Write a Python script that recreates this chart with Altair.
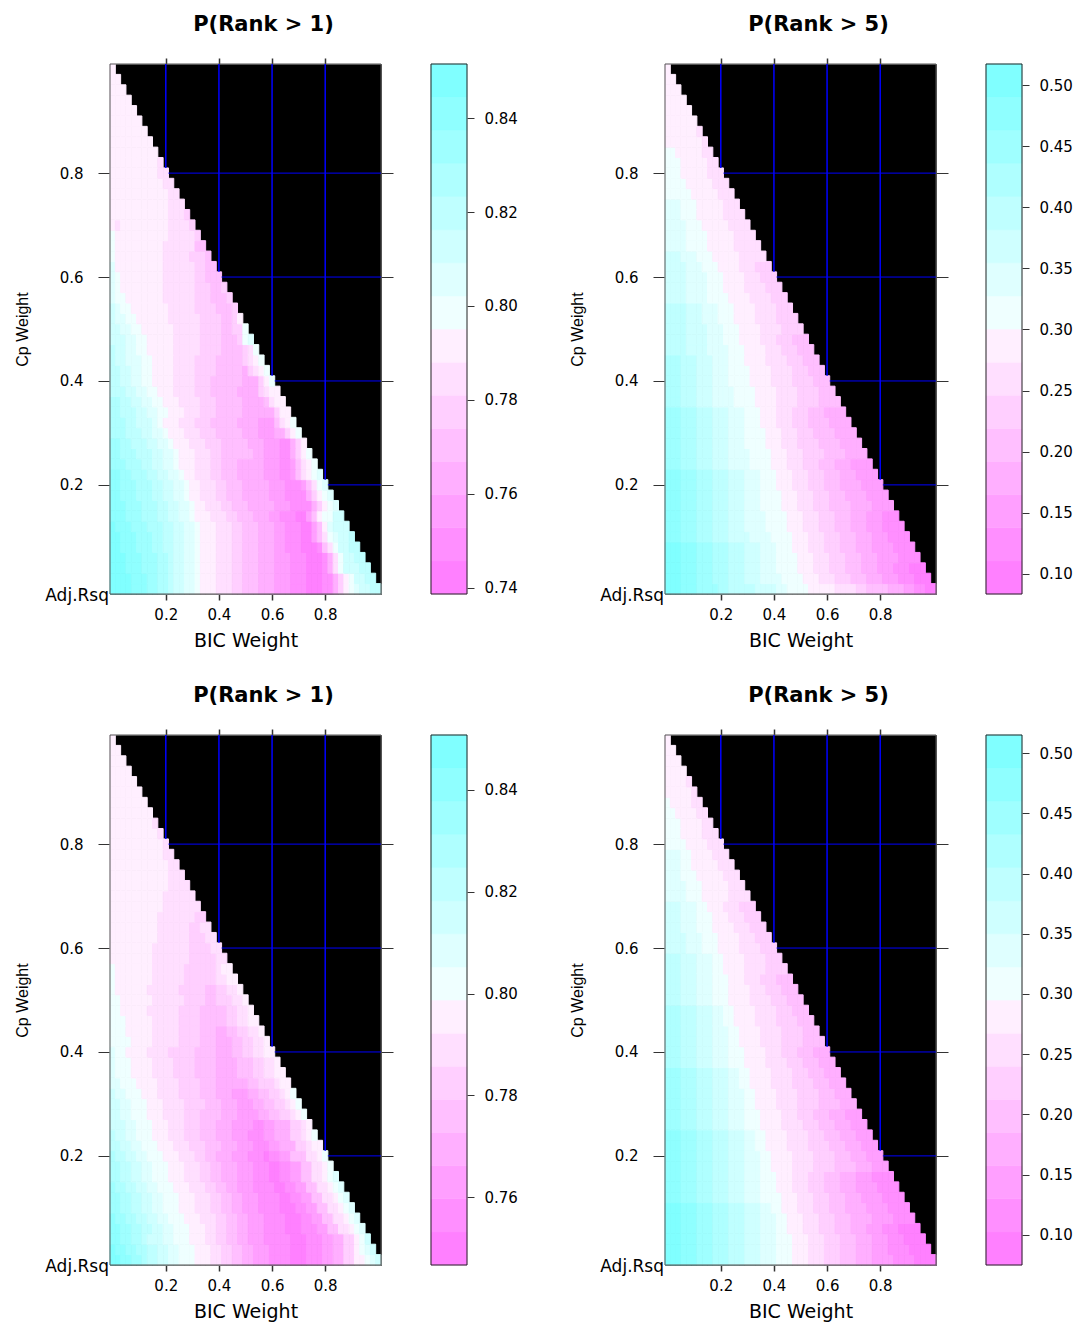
import altair as alt
import pandas as pd

# ---------------- data ----------------
STEP = 0.02          # grid step of BIC weight / Cp weight
N_GRID = 51          # grid points 0.00 .. 1.00
TITLES = ["P(Rank > 1)", "P(Rank > 5)", "P(Rank > 1)", "P(Rank > 5)"]
X_TITLE = "BIC Weight"
Y_TITLE = "Cp Weight"
CORNER_LABEL = "Adj.Rsq"
AXIS_TICKS = [0.2, 0.4, 0.6, 0.8]
KEY_LO = [0.7387, 0.0836, 0.7467, 0.0750]
KEY_HI = [0.8515, 0.5172, 0.8508, 0.5150]
KEY_TICKS = [
    [0.74, 0.76, 0.78, 0.80, 0.82, 0.84],
    [0.10, 0.15, 0.20, 0.25, 0.30, 0.35, 0.40, 0.45, 0.50],
    [0.76, 0.78, 0.80, 0.82, 0.84],
    [0.10, 0.15, 0.20, 0.25, 0.30, 0.35, 0.40, 0.45, 0.50],
]
N_LEVELS = 16

# Each row = one Cp weight (row 0 = 0.00), cells along BIC weight.
# Run-length tokens: first char = colour level (0..f), rest = number of cells.
P1_ROWS = [
    "f4 e3 d2 c2 b1 a2 92 81 73 63 52 43 33 23 13 03 12 31 51 71 81 91 a2 b2",
    "f4 e3 d2 c2 b1 a2 92 81 73 63 52 43 33 23 13 03 12 31 51 71 81 a2 b2",
    "f3 e3 d3 c2 b1 a2 92 81 73 63 52 43 33 23 13 03 11 31 61 81 a3 b2",
    "f3 e3 d3 c2 b1 a2 92 81 73 63 52 43 33 23 13 03 11 31 61 81 a2 b2",
    "f2 e3 d3 c2 b2 a2 92 81 73 63 52 43 33 22 13 03 11 41 61 81 a2 b2",
    "f2 e3 d3 c2 b2 a2 92 81 73 63 52 43 33 22 13 02 21 41 61 81 91 a2 b1",
    "f1 e3 d3 c3 b2 a2 92 81 73 63 52 43 33 22 13 02 21 41 71 91 a3",
    "e3 d3 c3 b2 a2 92 81 73 63 52 43 33 22 13 02 21 41 71 82 a2",
    "e3 d3 c3 b2 a2 92 81 72 63 52 43 33 32 23 13 11 31 51 71 81 91",
    "e2 d3 c3 b2 a2 92 81 72 63 52 43 33 32 23 13 11 31 51 71 81 91",
    "e2 d3 c3 b2 a2 92 81 72 63 52 43 33 32 23 13 21 41 61 81 91",
    "e2 d2 c3 b2 a2 92 81 72 63 52 43 33 32 23 12 21 41 61 71 81 91",
    "d3 c3 b2 a2 92 81 73 63 52 43 33 32 23 12 21 41 61 71 81",
    "d2 c3 b3 a2 92 81 73 63 52 46 32 23 12 31 51 71 81",
    "d2 c2 b3 a2 92 81 73 63 53 45 33 23 12 31 51 71",
    "c3 b3 a2 92 81 73 63 53 45 33 23 32 51 71 81",
    "c3 b2 a3 91 81 73 63 53 45 34 23 41 61 71 81",
    "c2 b3 a2 92 82 73 63 53 45 35 31 51 72",
    "c2 b2 a2 92 82 73 64 53 45 34 41 61 72",
    "b3 a2 92 82 73 64 53 45 34 51 61 72",
    "b2 a2 92 82 74 64 53 46 33 51 71 81",
    "b2 a2 92 82 74 64 54 45 31 51 61 71 81",
    "b1 a2 93 82 74 64 54 45 51 61 71 81",
    "b1 a2 92 82 75 65 54 44 51 61 81",
    "a3 92 82 75 65 54 43 51 81 91",
    "a2 92 82 76 65 54 42 52 81",
    "a1 92 82 76 66 54 42 51 71",
    "a1 91 82 77 65 54 43 51",
    "91 82 77 66 53 43 51",
    "91 81 78 66 53 42 51",
    "91 81 78 66 52 43",
    "91 79 66 52 42",
    "81 79 65 53 41",
    "81 79 66 42",
    "81 710 65 51",
    "71 61 79 64 51",
    "711 63 51",
    "711 63",
    "711 62",
    "710 62",
    "79 62",
    "79 61",
    "79", "78", "77", "76", "75", "74", "73", "72", "71",
]

P2_ROWS = [
    "f3 e3 d4 c2 b5 a4 92 84 75 64 52 44 33 22 12 02",
    "f3 e3 d3 c3 b3 a3 94 84 73 63 53 43 33 23 13 03",
    "f3 e3 d3 c3 b3 a3 93 84 73 63 53 43 33 23 13 03",
    "f3 e3 d3 c3 b3 a3 93 84 73 63 53 43 33 24 14",
    "f3 e3 d3 c3 b3 a3 93 83 73 63 53 43 33 24 14",
    "e3 d3 c3 b3 a4 94 84 73 63 53 43 33 23 14",
    "e3 d3 c3 b3 a3 94 84 73 63 53 43 33 23 14",
    "e3 d3 c3 b3 a3 94 84 73 63 53 43 33 23 13",
    "e3 d3 c3 b3 a3 93 84 73 63 53 44 34 24",
    "e3 d3 c3 b3 a3 93 84 73 63 53 43 34 24",
    "e3 d3 c3 b3 a3 93 83 73 63 53 43 34 24",
    "e3 d3 c3 b3 a3 93 83 73 63 53 43 33 24",
    "d3 c3 b3 a3 94 84 73 63 53 43 33 24",
    "d3 c3 b3 a3 94 84 73 63 54 44 34",
    "d3 c3 b3 a3 93 84 73 63 54 44 34",
    "d3 c3 b3 a3 93 84 73 63 53 44 34",
    "d3 c3 b3 a3 93 83 73 63 53 44 34",
    "d3 c3 b3 a3 93 83 73 63 53 43 34",
    "c3 b3 a3 94 84 74 64 54 44",
    "c3 b3 a3 94 84 74 64 54 43",
    "c3 b3 a3 93 84 74 64 54 43",
    "c3 b3 a3 93 84 74 64 53 43",
    "c3 b3 a3 93 83 74 64 53 43",
    "b4 a4 94 83 74 63 53 43",
    "b4 a4 93 83 74 63 53 43",
    "b4 a4 93 83 74 64 54",
    "b4 a3 93 83 74 64 54",
    "b4 a3 93 83 74 64 53",
    "a4 94 84 74 64 53",
    "a4 94 83 74 64 53",
    "a4 94 83 74 63 53",
    "a4 93 83 74 63 53",
    "a3 93 83 75 65",
    "94 84 75 65",
    "94 84 75 64",
    "94 83 75 64",
    "93 83 75 64",
    "93 83 75 63",
    "85 75 63",
    "84 75 63",
    "83 75 63",
    "83 75 62",
    "82 75 62",
    "77 61",
    "76 61",
    "76", "75", "74", "73", "72", "71",
]

P3_ROWS = [
    "f2 e2 d2 c1 b2 a2 92 83 73 62 52 42 32 23 14 03 13 22 32 52 72 81 91 a1",
    "f1 e2 d2 c2 b2 a2 92 83 73 62 52 42 32 23 14 03 13 22 32 52 71 81 91 a1",
    "e2 d2 c2 b1 a3 92 83 73 62 52 42 32 23 15 03 13 22 32 52 71 81 a1",
    "e2 d2 c2 b2 a2 92 83 73 62 52 42 32 23 14 03 13 22 42 62 71 81 91",
    "e1 d2 c2 b2 a2 92 83 73 63 52 42 32 23 14 03 12 22 42 62 71 81 91",
    "d2 c2 b2 a2 92 83 73 63 52 42 32 23 14 03 12 22 42 62 71 81 91",
    "d2 c2 b2 a2 92 83 73 63 52 42 32 23 14 02 12 22 42 62 71 81 91",
    "d1 c2 b2 a2 92 83 73 63 52 42 32 23 14 02 12 22 42 62 71 81 91",
    "c2 b2 a2 92 83 73 63 52 42 33 23 13 02 12 22 42 62 71 81 91",
    "c2 b2 a2 92 83 73 63 52 42 33 23 13 02 12 22 42 62 71 81",
    "c1 b2 a2 92 83 73 63 52 42 33 23 13 01 12 22 43 62 71 81",
    "b2 a2 92 83 73 63 53 43 33 23 13 22 33 52 61 72",
    "b1 a2 92 83 73 63 53 43 33 23 13 22 33 52 61 71 81",
    "a3 92 83 73 63 53 43 33 24 12 22 33 52 61 71",
    "a2 92 83 73 64 53 44 33 24 32 42 52 61 71 81",
    "a2 92 83 73 64 54 43 33 23 32 42 52 61 71 81",
    "a1 92 83 73 64 54 43 33 23 32 42 52 61 71 81",
    "92 83 74 64 54 43 34 32 42 53 61 72",
    "91 83 74 64 54 44 34 43 52 62 72",
    "91 83 74 64 54 44 34 43 52 62 71",
    "91 82 74 64 55 44 33 42 52 62 72",
    "84 74 65 54 43 33 42 52 62 71",
    "83 75 65 54 43 32 42 52 62 71",
    "83 75 65 54 43 42 52 62 72",
    "82 75 66 54 43 42 52 62 71",
    "82 76 66 54 42 53 62 71",
    "81 76 66 55 42 52 62 71",
    "81 77 66 54 52 62 72",
    "81 77 66 54 52 61 72",
    "78 67 53 52 62",
    "78 67 54 62",
    "79 66 53 62",
    "79 66 52 62",
    "79 67 52",
    "710 65 62",
    "710 64 62",
    "711 64",
    "711 63",
    "711 62",
    "710 62",
    "710 61",
    "79 61",
    "78 61",
    "78", "77", "76", "75", "74", "73", "72", "71",
]

P4_ROWS = [
    "f3 e3 d3 c3 b3 a3 93 83 73 63 53 43 33 24 14 04",
    "f3 e3 d3 c3 b3 a3 93 83 73 63 53 43 33 23 14 04",
    "f3 e3 d3 c3 b3 a3 93 83 73 63 53 43 33 23 13 04",
    "f3 e3 d3 c3 b3 a3 93 82 73 63 53 43 33 23 13 04",
    "f3 e3 d3 c3 b3 a3 93 82 73 63 53 43 34 24 14",
    "f3 e3 d3 c3 b3 a3 92 82 73 63 53 43 34 24 14",
    "e3 d3 c3 b3 a3 93 84 73 63 53 43 33 24 14",
    "e3 d3 c3 b3 a3 93 83 73 63 53 43 33 24 14",
    "e3 d3 c3 b3 a3 93 83 73 63 53 43 33 23 14",
    "e3 d3 c3 b3 a3 93 82 74 64 54 44 33 23",
    "e3 d3 c3 b3 a3 93 82 74 64 54 43 33 23",
    "e3 d3 c3 b3 a3 92 82 74 64 54 43 33 23",
    "e3 d3 c3 b3 a3 92 82 74 64 53 43 33 23",
    "d3 c3 b3 a3 93 83 74 64 53 43 33 23",
    "d3 c3 b3 a3 93 83 74 63 53 43 33 23",
    "d3 c3 b3 a3 93 82 74 64 54 44 33",
    "d3 c3 b3 a3 93 82 74 64 54 43 33",
    "d3 c3 b3 a3 92 82 74 64 54 43 33",
    "d3 c3 b3 a3 92 82 74 64 53 43 33",
    "c3 b3 a3 93 83 74 64 53 43 33",
    "c3 b3 a3 93 83 74 63 53 43 33",
    "c3 b3 a3 93 82 74 64 54 44",
    "c3 b3 a3 93 82 74 64 54 43",
    "c3 b3 a3 92 82 74 64 54 43",
    "c3 b3 a3 92 82 74 64 53 43",
    "b3 a3 93 83 74 64 53 43",
    "b3 a3 93 83 74 63 53 43",
    "b3 a3 93 83 73 63 53 43",
    "b3 a3 93 82 74 64 54",
    "b3 a3 93 82 74 64 53",
    "a4 93 83 74 64 53",
    "a4 93 83 74 63 53",
    "a3 93 83 74 63 53",
    "a3 93 83 73 63 53",
    "a3 93 82 73 63 53",
    "94 83 75 64",
    "94 83 75 63",
    "93 83 75 63",
    "93 82 75 63",
    "93 82 74 63",
    "84 74 63",
    "83 74 63",
    "83 74 62",
    "82 74 62",
    "81 74 62",
    "75 61",
    "74 61",
    "74", "73", "72", "71",
]

ROWS = [P1_ROWS, P2_ROWS, P3_ROWS, P4_ROWS]

# ---------------- styles ----------------
PALETTE = ["#FF80FF", "#FF8FFF", "#FF9FFF", "#FFAFFF", "#FFBFFF", "#FFCFFF",
           "#FFDFFF", "#FFEFFF", "#EFFFFF", "#DFFFFF", "#CFFFFF", "#BFFFFF",
           "#AFFFFF", "#9FFFFF", "#8FFFFF", "#80FFFF"]
FONT = "DejaVu Sans"
NARROW = "Liberation Sans Narrow, Liberation Sans"
PLOT_W, PLOT_H, KEY_W, GAP_W = 271, 530, 36, 98
HALF = STEP / 2


def decode(rows):
    recs = []
    for r, s in enumerate(rows):
        n = N_GRID - r
        levels = []
        for tok in s.split():
            levels += [int(tok[0], 16)] * int(tok[1:])
        levels = (levels + [levels[-1]] * n)[:n]
        for c, lev in enumerate(levels):
            recs.append({"bic": round(c * STEP, 4), "cp": round(r * STEP, 4), "level": lev})
    return pd.DataFrame(recs)


cscale = alt.Scale(domain=list(range(N_LEVELS)), range=PALETTE)
xs = alt.Scale(domain=[-HALF, 1 + HALF], nice=False, zero=False)
ys = alt.Scale(domain=[-HALF, 1 + HALF], nice=False, zero=False)


def heat(i):
    df = decode(ROWS[i])
    w = (KEY_HI[i] - KEY_LO[i]) / N_LEVELS
    df["value"] = KEY_LO[i] + (df["level"] + 0.5) * w
    cells = alt.Chart(df).transform_calculate(
        x0=f"datum.bic - {HALF}", x1=f"datum.bic + {HALF}",
        y0=f"datum.cp - {HALF}", y1=f"datum.cp + {HALF}",
    ).mark_rect(strokeWidth=1).encode(
        x=alt.X("x0:Q", scale=xs, axis=alt.Axis(
            orient="bottom", values=AXIS_TICKS, format=".1f", title=X_TITLE,
            tickSize=6, tickWidth=1.5, labelPadding=7, titlePadding=9,
            titleFontSize=19)),
        x2="x1:Q",
        y=alt.Y("y0:Q", scale=ys, axis=alt.Axis(
            orient="left", values=AXIS_TICKS, format=".1f", title=Y_TITLE,
            tickSize=12, labelPadding=15, titlePadding=29,
            titleFont=NARROW, titleFontSize=16)),
        y2="y1:Q",
        color=alt.Color("level:O", scale=cscale, legend=None),
        stroke=alt.Stroke("level:O", scale=cscale, legend=None),
        tooltip=[alt.Tooltip("bic:Q"), alt.Tooltip("cp:Q"), alt.Tooltip("value:Q", format=".3f")],
    )
    frame = alt.Chart(pd.DataFrame({"f": [0]})).mark_rect(
        fillOpacity=0, stroke="#555", strokeWidth=1
    ).encode(
        x=alt.X(datum=-HALF, scale=xs, axis=None), x2=alt.X2(datum=1 + HALF),
        y=alt.Y(datum=-HALF, scale=ys, axis=None), y2=alt.Y2(datum=1 + HALF),
    )
    vdf = pd.DataFrame({"x": AXIS_TICKS,
                        "y": [1 - v + HALF for v in AXIS_TICKS],
                        "y2": [1 + HALF] * len(AXIS_TICKS)})
    hdf = pd.DataFrame({"y": AXIS_TICKS,
                        "x": [1 - v + HALF for v in AXIS_TICKS],
                        "x2": [1 + HALF] * len(AXIS_TICKS)})
    vlines = alt.Chart(vdf).mark_rule(color="#0000FF", strokeWidth=1.5).encode(
        x=alt.X("x:Q", scale=xs, axis=alt.Axis(
            orient="top", values=AXIS_TICKS, labels=False, title=None,
            tickSize=6, tickWidth=1.5)),
        y=alt.Y("y:Q", scale=ys, axis=alt.Axis(
            orient="right", values=AXIS_TICKS, labels=False, title=None, tickSize=12)),
        y2="y2:Q",
    )
    hlines = alt.Chart(hdf).mark_rule(color="#0000FF", strokeWidth=1).encode(
        x=alt.X("x:Q", scale=xs, axis=None), x2="x2:Q",
        y=alt.Y("y:Q", scale=ys, axis=None),
    )
    corner = alt.Chart(pd.DataFrame({"t": [CORNER_LABEL]})).mark_text(
        align="right", baseline="middle", dx=-1, dy=2, font=FONT, fontSize=17, color="black"
    ).encode(
        x=alt.X(datum=-HALF, scale=xs, axis=None),
        y=alt.Y(datum=-HALF, scale=ys, axis=None),
        text="t:N",
    )
    return alt.layer(cells, frame, vlines, hlines, corner).resolve_axis(
        x="independent", y="independent"
    ).properties(
        width=PLOT_W, height=PLOT_H,
        title=alt.TitleParams(TITLES[i], font=FONT, fontSize=21, fontWeight="bold",
                              anchor="middle", dx=18, offset=22, color="black"),
        view=alt.ViewBackground(fill="black", stroke="#555"),
    )


def key(i):
    lo, hi = KEY_LO[i], KEY_HI[i]
    w = (hi - lo) / N_LEVELS
    bands = pd.DataFrame({"level": list(range(N_LEVELS)),
                          "v0": [lo + k * w for k in range(N_LEVELS)],
                          "v1": [lo + (k + 1) * w for k in range(N_LEVELS)]})
    kys = alt.Scale(domain=[lo, hi], nice=False, zero=False)
    kxs = alt.Scale(domain=[0, 1], nice=False, zero=False)
    bars = alt.Chart(bands).mark_rect(strokeWidth=0.6).encode(
        x=alt.X(datum=0, scale=kxs, axis=None), x2=alt.X2(datum=1),
        y=alt.Y("v0:Q", scale=kys, axis=alt.Axis(
            orient="right", values=KEY_TICKS[i], format=".2f", title=None,
            tickSize=7, labelPadding=10, labelFontSize=15)),
        y2="v1:Q",
        color=alt.Color("level:O", scale=cscale, legend=None),
        stroke=alt.Stroke("level:O", scale=cscale, legend=None),
    )
    frame = alt.Chart(pd.DataFrame({"f": [0]})).mark_rect(
        fillOpacity=0, stroke="#222", strokeWidth=1
    ).encode(
        x=alt.X(datum=0, scale=kxs, axis=None), x2=alt.X2(datum=1),
        y=alt.Y(datum=lo, scale=kys, axis=None), y2=alt.Y2(datum=hi),
    )
    return alt.layer(bars, frame).resolve_axis(
        x="independent", y="independent"
    ).properties(
        width=KEY_W, height=PLOT_H, view=alt.ViewBackground(stroke="transparent"))


spacer = alt.Chart(pd.DataFrame({"s": [0]})).mark_point(opacity=0).encode(
    x=alt.X("s:Q", axis=None), y=alt.Y("s:Q", axis=None)
).properties(width=GAP_W, height=PLOT_H, view=alt.ViewBackground(stroke="transparent"))

chart = alt.concat(
    heat(0), key(0), spacer, heat(1), key(1),
    heat(2), key(2), spacer, heat(3), key(3),
    columns=5, spacing={"row": 141, "column": 50}, bounds="flush", align="each",
).properties(
    padding={"left": 5, "top": 5, "right": 5, "bottom": 0},
    background="white",
).configure_axis(
    grid=False, domain=False, labelFlush=False,
    labelFont=FONT, labelFontSize=15, labelColor="black",
    tickColor="#333", titleFont=FONT, titleFontSize=17,
    titleFontWeight="normal", titleColor="black",
).configure_title(font=FONT, color="black")

chart.save("out.html", embed_options={"renderer": "svg", "actions": False})
